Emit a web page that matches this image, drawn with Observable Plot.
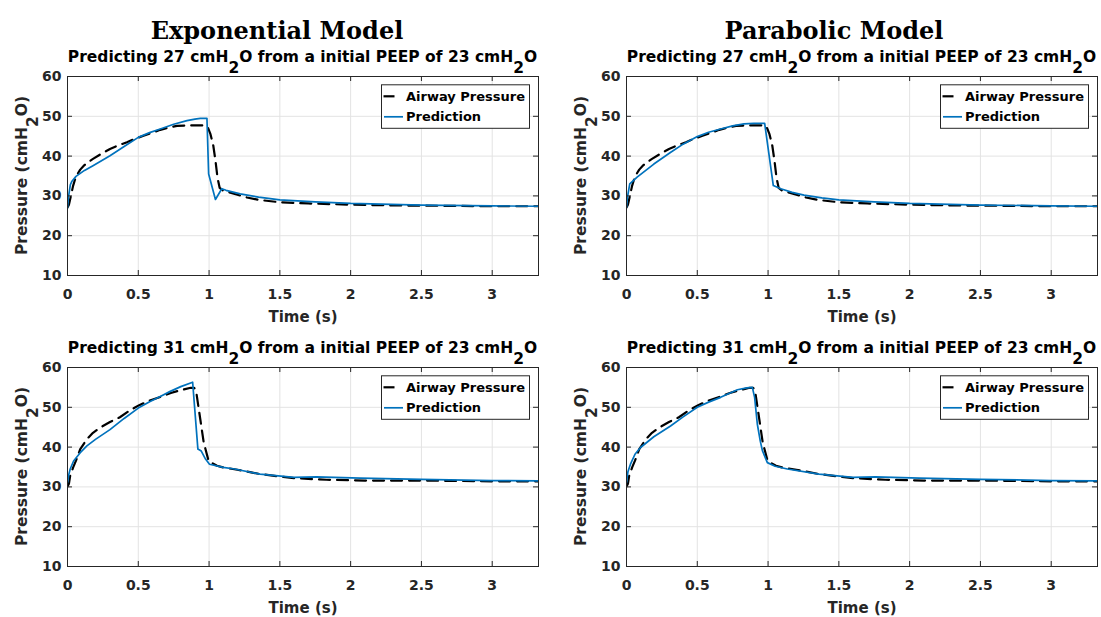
<!DOCTYPE html>
<html><head><meta charset="utf-8">
<script src="https://cdn.jsdelivr.net/npm/d3@7"></script>
<script src="https://cdn.jsdelivr.net/npm/@observablehq/plot@0.6"></script>
<style>
html,body{margin:0;padding:0;background:#fff;}
#root{position:relative;width:1101px;height:617px;overflow:hidden;background:#fff;}
.panel{position:absolute;}
#overlay{position:absolute;left:0;top:0;pointer-events:none;}
</style></head><body><div id="root"></div><script>
// ---------- data (time s, pressure cmH2O) ----------
const xTicks = [0, 0.5, 1, 1.5, 2, 2.5, 3];
const yTicks = [10, 20, 30, 40, 50, 60];
const xMax = 3.327;
const modelTitles = ["Exponential Model", "Parabolic Model"];
const subtitles = ["Predicting 27 cmH_2O from a initial PEEP of 23 cmH_2O",
                   "Predicting 31 cmH_2O from a initial PEEP of 23 cmH_2O"];
const legendLabels = ["Airway Pressure", "Prediction"];
const xLabel = "Time (s)";
const yLabel = "Pressure (cmH_2O)";

const airway27 = [[0,27.1],[0.01,27.8],[0.024,30.0],[0.04,32.6],[0.06,34.9],[0.09,36.6],[0.115,37.6],[0.15,38.6],[0.18,39.3],[0.24,40.6],
  [0.30,41.8],[0.36,42.7],[0.42,43.5],[0.48,44.4],[0.537,45.1],[0.6,45.9],[0.655,46.6],[0.72,47.2],[0.773,47.6],[0.84,47.7],
  [0.9,47.7],[0.97,47.7],[0.99,47.3],[1.01,45.5],[1.03,42.6],[1.045,38.9],[1.06,34.5],[1.075,32.0],[1.1,31.3],[1.15,30.8],
  [1.2,30.3],[1.268,29.6],[1.35,29.0],[1.5,28.4],[1.7,28.1],[2.0,27.8],[2.3,27.6],[2.7,27.5],[3.0,27.4],[3.327,27.4]];
const exp27 = [[0,27.0],[0.006,29.5],[0.02,32.8],[0.03,33.6],[0.06,34.9],[0.12,36.4],[0.18,37.6],[0.3,40.1],[0.4,42.4],[0.5,44.7],
  [0.58,45.9],[0.655,46.8],[0.75,48.0],[0.844,48.9],[0.9,49.3],[0.938,49.5],[0.985,49.5],[0.997,35.5],[1.045,29.1],[1.09,31.8],
  [1.12,31.4],[1.22,30.5],[1.35,29.7],[1.5,29.0],[1.75,28.5],[2.0,28.1],[2.5,27.7],[3.0,27.5],[3.327,27.4]];
const par27 = [[0,27.1],[0.006,29.5],[0.023,33.0],[0.075,34.7],[0.193,38.0],[0.31,40.9],[0.4,43.0],[0.5,44.9],[0.58,46.0],[0.665,46.8],
  [0.75,47.6],[0.83,48.1],[0.9,48.2],[0.976,48.2],[1.037,32.6],[1.09,31.8],[1.17,30.9],[1.254,30.2],[1.38,29.5],[1.5,29.0],
  [1.75,28.5],[2.0,28.1],[2.5,27.7],[3.0,27.5],[3.327,27.4]];
const airway31 = [[0,30.1],[0.01,30.8],[0.019,32.8],[0.04,34.9],[0.06,36.6],[0.09,39.5],[0.137,42.0],[0.18,43.6],[0.23,44.9],[0.3,46.3],
  [0.37,47.5],[0.44,49.2],[0.51,50.6],[0.58,51.7],[0.655,52.6],[0.73,53.6],[0.8,54.3],[0.87,54.9],[0.895,54.9],[0.91,53.7],
  [0.938,47.0],[0.962,41.2],[0.997,36.5],[1.056,35.3],[1.1,34.9],[1.2,34.3],[1.35,33.3],[1.5,32.6],[1.6,32.2],[1.83,31.8],
  [2.1,31.6],[2.5,31.6],[3.0,31.4],[3.327,31.4]];
const exp31 = [[0,31.1],[0.01,33.2],[0.019,34.5],[0.043,36.5],[0.09,38.6],[0.137,40.3],[0.2,42.0],[0.3,44.4],[0.4,47.2],[0.5,49.8],
  [0.58,51.4],[0.655,52.7],[0.726,54.0],[0.8,55.2],[0.884,56.3],[0.921,39.5],[0.945,39.0],[0.975,37.0],[1.003,35.7],[1.1,34.9],
  [1.18,34.5],[1.36,33.2],[1.6,32.4],[1.76,32.5],[2.07,32.2],[2.5,31.9],[3.0,31.6],[3.327,31.5]];
const par31 = [[0,31.1],[0.01,33.8],[0.028,35.7],[0.06,38.2],[0.099,39.9],[0.193,42.6],[0.311,45.3],[0.4,47.6],[0.5,50.0],[0.58,51.3],
  [0.665,52.5],[0.783,54.4],[0.85,54.9],[0.889,55.0],[0.905,52.5],[0.924,45.8],[0.945,41.5],[0.96,39.1],[0.995,36.1],[1.05,35.2],
  [1.136,34.5],[1.36,33.2],[1.6,32.4],[1.76,32.5],[2.07,32.2],[2.5,31.9],[3.0,31.6],[3.327,31.5]];

// ---------- layout ----------
const SANS = "DejaVu Sans";
const INK = "#262626";
const BLUE = "#0072BD";
const GRID = "#e3e3e3";
const innerW = 471, innerH = 199;
const panels = [
  {left: 0,   top: 0,   w: 550, h: 330, ml: 67, mt: 76, airway: airway27, pred: exp27},
  {left: 550, top: 0,   w: 551, h: 330, ml: 76, mt: 76, airway: airway27, pred: par27},
  {left: 0,   top: 330, w: 550, h: 287, ml: 67, mt: 37, airway: airway31, pred: exp31},
  {left: 550, top: 330, w: 551, h: 287, ml: 76, mt: 37, airway: airway31, pred: par31}
];

const root = document.getElementById("root");

panels.forEach(p => {
  const mr = p.w - p.ml - innerW, mb = p.h - p.mt - innerH;
  const chart = Plot.plot({
    width: p.w, height: p.h,
    marginLeft: p.ml, marginRight: mr, marginTop: p.mt, marginBottom: mb,
    style: {fontFamily: SANS, fontSize: "14px", fontWeight: "bold", color: INK, background: "transparent", overflow: "visible"},
    x: {domain: [0, xMax]},
    y: {domain: [10, 60]},
    marks: [
      Plot.gridX(xTicks, {stroke: GRID, strokeOpacity: 1}),
      Plot.gridY(yTicks, {stroke: GRID, strokeOpacity: 1}),
      Plot.line(p.airway, {x: d => d[0], y: d => d[1], stroke: "#000", strokeWidth: 2.2, strokeDasharray: "11,7", clip: true}),
      Plot.line(p.pred, {x: d => d[0], y: d => d[1], stroke: BLUE, strokeWidth: 1.7, clip: true}),
      Plot.ruleX(xTicks, {x: d => d, insetTop: innerH - 5, stroke: INK}),
      Plot.ruleX(xTicks, {x: d => d, insetBottom: innerH - 5, stroke: INK}),
      Plot.ruleY(yTicks, {y: d => d, insetRight: innerW - 5, stroke: INK}),
      Plot.ruleY(yTicks, {y: d => d, insetLeft: innerW - 5, stroke: INK}),
      Plot.frame({stroke: INK, strokeWidth: 1}),
      Plot.axisX(xTicks, {tickSize: 0, tickPadding: 14, tickFormat: d => String(d), label: null, fontSize: 14}),
      Plot.axisY(yTicks, {tickSize: 0, tickPadding: 6, label: null, fontSize: 14}),
      Plot.text([xLabel], {text: d => d, frameAnchor: "bottom", dy: 42, lineAnchor: "middle", fontSize: 15, fontWeight: "bold"})
    ]
  });
  const div = document.createElement("div");
  div.className = "panel";
  div.style.left = p.left + "px";
  div.style.top = p.top + "px";
  div.appendChild(chart);
  root.appendChild(div);
});

// ---------- overlay: titles, subtitles, y labels, legends ----------
const overlay = d3.create("svg").attr("id", "overlay").attr("width", 1101).attr("height", 617);
const SUB = 11;
function subText(sel, str) {
  str.split("_2").forEach((part, i) => {
    if (i > 0) {
      sel.append("tspan").attr("dy", SUB).text("2");
      sel.append("tspan").attr("dy", -SUB).text(part);
    } else sel.append("tspan").text(part);
  });
}
// model titles
[[277, modelTitles[0]], [834, modelTitles[1]]].forEach(([x, t]) => {
  overlay.append("text").attr("x", x).attr("y", 39).attr("text-anchor", "middle")
    .attr("font-family", "DejaVu Serif").attr("font-weight", "bold").attr("font-size", 24)
    .attr("fill", "#000").text(t);
});
panels.forEach((p, i) => {
  const fx = p.left + p.ml, fy = p.top + p.mt;
  // subtitle
  const st = overlay.append("text").attr("x", fx + innerW / 2).attr("y", fy - 14).attr("text-anchor", "middle")
    .attr("font-family", SANS).attr("font-weight", "bold").attr("font-size", 15.5).attr("fill", "#000");
  subText(st, subtitles[i < 2 ? 0 : 1]);
  // y label
  const yl = overlay.append("text").attr("transform", `translate(${fx - 40},${fy + innerH / 2}) rotate(-90)`)
    .attr("text-anchor", "middle").attr("font-family", SANS).attr("font-weight", "bold").attr("font-size", 15.5).attr("fill", INK);
  subText(yl, yLabel);
  // legend
  const bx = fx + innerW - 157, by = fy + 8.3;
  const g = overlay.append("g").attr("transform", `translate(${bx},${by})`);
  g.append("rect").attr("x", 0.5).attr("y", 0.5).attr("width", 148).attr("height", 43.5).attr("fill", "#fff").attr("stroke", INK).attr("stroke-width", 1);
  g.append("line").attr("x1", 2.5).attr("x2", 13.5).attr("y1", 12).attr("y2", 12).attr("stroke", "#000").attr("stroke-width", 2.2);
  g.append("line").attr("x1", 3).attr("x2", 22).attr("y1", 32.5).attr("y2", 32.5).attr("stroke", BLUE).attr("stroke-width", 1.7);
  [[12, legendLabels[0]], [32.5, legendLabels[1]]].forEach(([y, t]) => {
    g.append("text").attr("x", 25).attr("y", y + 4.7).attr("font-family", SANS).attr("font-weight", "bold").attr("font-size", 13).attr("fill", "#000").text(t);
  });
});
root.appendChild(overlay.node());
</script></body></html>
